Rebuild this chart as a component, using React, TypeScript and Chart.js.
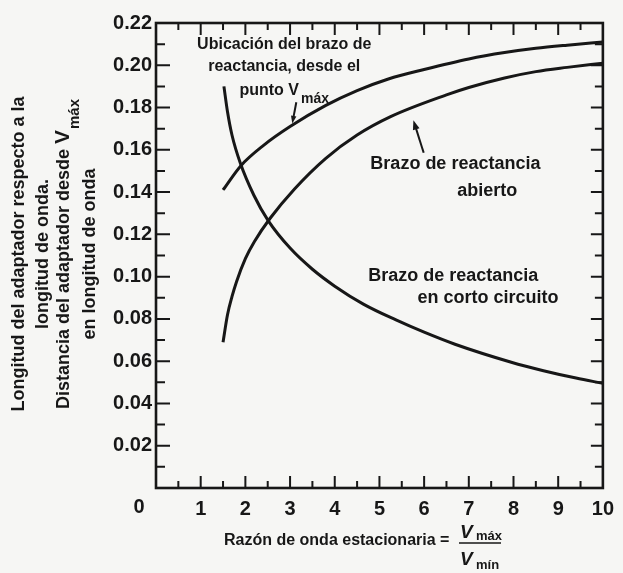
import React, { useEffect, useRef } from 'react';
import { Chart, registerables } from 'chart.js';

Chart.register(...registerables);

// Standing wave ratio (x) and lengths / distances in wavelengths (y)
const vmaxS = [1.5, 1.9, 2.4, 3.0, 3.8, 4.5, 5.2, 6.0, 7.0, 7.8, 8.5, 9.2, 10];
const vmaxD = [0.141, 0.1525, 0.162, 0.171, 0.181, 0.188, 0.1935, 0.198, 0.203, 0.206, 0.208, 0.2095, 0.211];

const openS = [1.5, 1.6, 1.7, 1.8, 2.0, 2.2, 2.55, 3.1, 3.8, 4.5, 5.25, 6.5, 7.0, 7.8, 8.5, 9.2, 10];
const openD = [0.069, 0.082, 0.0905, 0.0975, 0.1085, 0.1165, 0.1275, 0.1415, 0.156, 0.167, 0.1757, 0.186, 0.1895, 0.194, 0.197, 0.199, 0.201];

const shortS = [1.52, 1.6, 1.7, 1.89, 2.19, 2.51, 3.0, 3.5, 4.0, 4.64, 5.37, 6.0, 6.69, 7.95, 8.67, 9.4, 10];
const shortD = [0.19, 0.178, 0.167, 0.1535, 0.1385, 0.1265, 0.1135, 0.1035, 0.0955, 0.087, 0.0795, 0.0737, 0.068, 0.0595, 0.0555, 0.052, 0.0495];

const xTickLabels = ['', '1', '2', '3', '4', '5', '6', '7', '8', '9', '10'];
const yTickLabels = ['', '0.02', '0.04', '0.06', '0.08', '0.10', '0.12', '0.14', '0.16', '0.18', '0.20', '0.22'];

const INK = '#171717';
const PAPER = '#f6f6f4';
const FONT = "'Liberation Sans', Arial, Helvetica, sans-serif";

const paperPlugin = {
  id: 'paper',
  beforeDraw(chart: any) {
    const ctx = chart.ctx;
    ctx.save();
    ctx.fillStyle = PAPER;
    ctx.fillRect(0, 0, chart.width, chart.height);
    ctx.restore();
  },
};

function arrow(ctx: any, x1: number, y1: number, x2: number, y2: number, head = 8) {
  const a = Math.atan2(y2 - y1, x2 - x1);
  ctx.beginPath();
  ctx.moveTo(x1, y1);
  ctx.lineTo(x2 - Math.cos(a) * head * 0.7, y2 - Math.sin(a) * head * 0.7);
  ctx.stroke();
  ctx.beginPath();
  ctx.moveTo(x2, y2);
  ctx.lineTo(x2 - head * Math.cos(a - 0.35), y2 - head * Math.sin(a - 0.35));
  ctx.lineTo(x2 - head * Math.cos(a + 0.35), y2 - head * Math.sin(a + 0.35));
  ctx.closePath();
  ctx.fill();
}

const framePlugin = {
  id: 'frame',
  afterDraw(chart: any) {
    const ctx = chart.ctx;
    const xs = chart.scales.x;
    const ys = chart.scales.y;
    const { left, right, top, bottom } = chart.chartArea;
    const px = (v: number) => xs.getPixelForValue(v);
    const py = (v: number) => ys.getPixelForValue(v);
    ctx.save();
    ctx.strokeStyle = INK;
    ctx.fillStyle = INK;
    ctx.lineCap = 'butt';

    // inward ticks
    ctx.lineWidth = 2;
    ctx.beginPath();
    for (let i = 1; i < 22; i++) {
      const y = py(i / 100);
      const major = i % 2 === 0;
      ctx.moveTo(left, y);
      ctx.lineTo(left + (major ? 14 : 9), y);
      ctx.moveTo(right, y);
      ctx.lineTo(right - (major ? 12 : 8), y);
    }
    for (let i = 1; i < 20; i++) {
      const x = px(i / 2);
      const major = i % 2 === 0;
      ctx.moveTo(x, bottom);
      ctx.lineTo(x, bottom - (major ? 12 : 7));
      ctx.moveTo(x, top);
      ctx.lineTo(x, top + (major ? 12 : 7));
    }
    ctx.stroke();

    // frame
    ctx.lineWidth = 2.6;
    ctx.strokeRect(left, top, right - left, bottom - top);

    // corner zero
    ctx.font = `bold 20px ${FONT}`;
    ctx.textAlign = 'center';
    ctx.textBaseline = 'middle';
    ctx.fillText('0', left - 17, bottom + 19);

    // annotations
    const center = (txt: string, s: number, d: number, size: number) => {
      ctx.font = `bold ${size}px ${FONT}`;
      ctx.textAlign = 'center';
      ctx.textBaseline = 'middle';
      ctx.fillText(txt, px(s), py(d));
    };
    center('Ubicación del brazo de', 2.87, 0.2097, 16);
    center('reactancia, desde el', 2.87, 0.1993, 16);
    {
      const main = 'punto V';
      ctx.font = `bold 16px ${FONT}`;
      const w1 = ctx.measureText(main).width;
      ctx.font = `bold 14px ${FONT}`;
      const w2 = ctx.measureText('máx').width;
      const x0 = px(2.87) - (w1 + w2 + 2) / 2;
      const y0 = py(0.1879);
      ctx.textAlign = 'left';
      ctx.textBaseline = 'middle';
      ctx.font = `bold 16px ${FONT}`;
      ctx.fillText(main, x0, y0);
      ctx.font = `bold 14px ${FONT}`;
      ctx.fillText('máx', x0 + w1 + 2, y0 + 8);
    }
    center('Brazo de reactancia', 6.7, 0.1533, 18);
    center('abierto', 7.41, 0.1405, 18);
    center('Brazo de reactancia', 6.65, 0.1005, 18);
    center('en corto circuito', 7.43, 0.09, 18);

    ctx.lineWidth = 2;
    arrow(ctx, px(3.14), py(0.1825), px(3.05), py(0.1725), 8);
    arrow(ctx, px(5.99), py(0.1586), px(5.76), py(0.174), 10);

    // y axis title (rotated)
    const rot = (cx: number, cy: number, fn: () => void) => {
      ctx.save();
      ctx.translate(cx, cy);
      ctx.rotate(-Math.PI / 2);
      fn();
      ctx.restore();
    };
    ctx.textBaseline = 'middle';
    rot(19, 254, () => {
      ctx.font = `bold 18px ${FONT}`;
      ctx.textAlign = 'center';
      ctx.fillText('Longitud del adaptador respecto a la', 0, 0);
    });
    rot(43, 254, () => {
      ctx.font = `bold 18px ${FONT}`;
      ctx.textAlign = 'center';
      ctx.fillText('longitud de onda.', 0, 0);
    });
    rot(64, 254, () => {
      ctx.font = `bold 18px ${FONT}`;
      const main = 'Distancia del adaptador desde ';
      const w1 = ctx.measureText(main).width;
      ctx.font = `bold 21px ${FONT}`;
      const wv = ctx.measureText('V').width;
      ctx.font = `bold 15px ${FONT}`;
      const w2 = ctx.measureText('máx').width;
      const x0 = -(w1 + wv + w2 + 1) / 2;
      ctx.textAlign = 'left';
      ctx.font = `bold 18px ${FONT}`;
      ctx.fillText(main, x0, 0);
      ctx.font = `bold 21px ${FONT}`;
      ctx.fillText('V', x0 + w1, -1);
      ctx.font = `bold 15px ${FONT}`;
      ctx.fillText('máx', x0 + w1 + wv + 1, 11);
    });
    rot(90, 254, () => {
      ctx.font = `bold 18px ${FONT}`;
      ctx.textAlign = 'center';
      ctx.fillText('en longitud de onda', 0, 0);
    });

    // x axis title with fraction
    ctx.textAlign = 'left';
    ctx.textBaseline = 'middle';
    ctx.font = `bold 16px ${FONT}`;
    ctx.fillText('Razón de onda estacionaria =', 224, 541);
    ctx.textBaseline = 'alphabetic';
    ctx.font = `italic bold 19px ${FONT}`;
    ctx.fillText('V', 460, 538);
    ctx.fillText('V', 460, 565);
    ctx.font = `bold 13px ${FONT}`;
    ctx.fillText('máx', 476, 540);
    ctx.fillText('mín', 476, 569);
    ctx.lineWidth = 1.6;
    ctx.beginPath();
    ctx.moveTo(459, 543);
    ctx.lineTo(501, 543);
    ctx.stroke();

    ctx.restore();
  },
};

export default function App() {
  const ref = useRef<HTMLCanvasElement | null>(null);
  useEffect(() => {
    const canvas = ref.current;
    if (!canvas) return;
    const mk = (xs: number[], ys: number[]) => ({
      data: xs.map((s, i) => ({ x: s, y: ys[i] })),
      borderColor: INK,
      borderWidth: 3,
      pointRadius: 0,
      fill: false,
      cubicInterpolationMode: 'monotone' as const,
    });
    const chart = new Chart(canvas, {
      type: 'line',
      data: {
        datasets: [mk(vmaxS, vmaxD), mk(openS, openD), mk(shortS, shortD)],
      },
      options: {
        animation: false,
        responsive: false,
        maintainAspectRatio: false,
        devicePixelRatio: 1,
        layout: { padding: { top: 23, right: 8, left: 0, bottom: 0 } },
        plugins: { legend: { display: false }, tooltip: { enabled: false } },
        scales: {
          x: {
            type: 'linear',
            min: 0,
            max: 10,
            grid: { display: false, drawTicks: false },
            border: { display: false },
            ticks: {
              stepSize: 1,
              autoSkip: false,
              maxRotation: 0,
              padding: 9,
              color: INK,
              font: { family: FONT, size: 20, weight: 'bold' },
              callback: (v: any) => xTickLabels[Math.round(Number(v))] ?? '',
            },
            afterFit: (s: any) => {
              s.height = 85;
            },
          },
          y: {
            type: 'linear',
            min: 0,
            max: 0.22,
            grid: { display: false, drawTicks: false },
            border: { display: false },
            ticks: {
              stepSize: 0.02,
              autoSkip: false,
              padding: 4,
              color: INK,
              font: { family: FONT, size: 20, weight: 'bold' },
              callback: (v: any) => yTickLabels[Math.round(Number(v) / 0.02)] ?? '',
            },
            afterFit: (s: any) => {
              s.width = 156;
            },
          },
        },
      },
      plugins: [paperPlugin, framePlugin],
    } as any);
    return () => chart.destroy();
  }, []);
  return (
    <div style={{ position: 'absolute', left: 0, top: 0, width: 623, height: 573 }}>
      <canvas ref={ref} width={623} height={573} style={{ display: 'block', width: 623, height: 573 }} />
    </div>
  );
}
